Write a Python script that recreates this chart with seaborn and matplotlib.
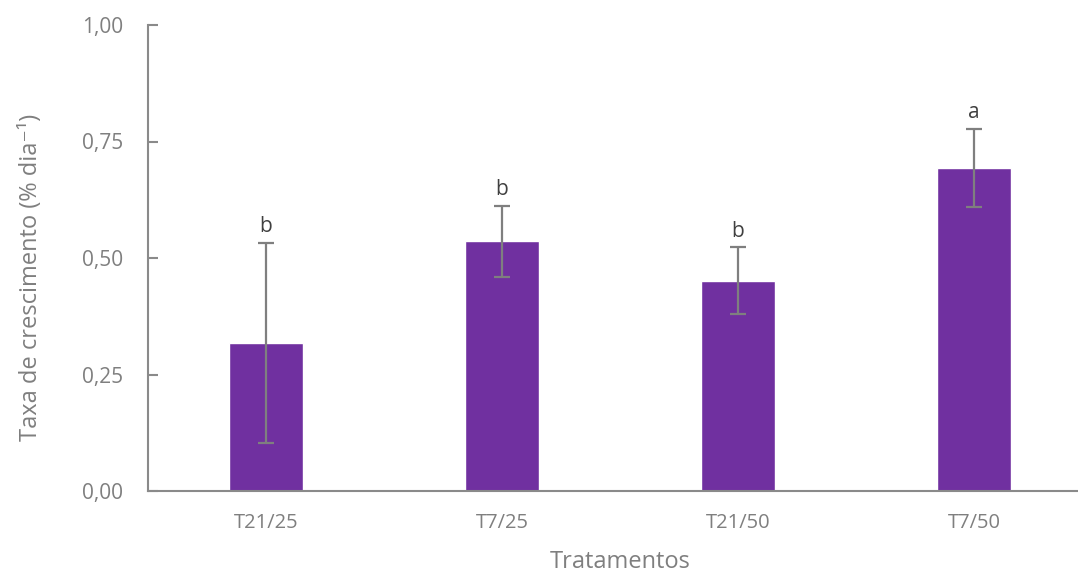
import matplotlib
matplotlib.use("Agg")
import matplotlib.pyplot as plt
import seaborn as sns
import pandas as pd

# Growth rate per treatment, standard deviation and significance letters
tratamentos = ["T21/25", "T7/25", "T21/50", "T7/50"]
taxa = [0.318, 0.536, 0.451, 0.693]
desvio = [0.215, 0.076, 0.072, 0.084]
letras = ["b", "b", "b", "a"]
yticks = [0.00, 0.25, 0.50, 0.75, 1.00]
ytick_labels = ["0,00", "0,25", "0,50", "0,75", "1,00"]

sns.set_theme(style="white")
plt.rcParams["font.family"] = ["Open Sans", "DejaVu Sans"]

W, H = 1078, 574
fig = plt.figure(figsize=(W / 100, H / 100), dpi=100)
ax = fig.add_axes([148 / W, (H - 491) / H, 944 / W, 466 / H])

df = pd.DataFrame({"Tratamento": tratamentos, "Taxa": taxa})
sns.barplot(data=df, x="Tratamento", y="Taxa", color="#7030A0", width=0.31,
            saturation=1, errorbar=None, ax=ax)
ax.errorbar(range(len(taxa)), taxa, yerr=desvio, fmt="none",
            ecolor="#7f7f7f", elinewidth=1.6, capsize=6, capthick=1.6)

for i, (v, e, l) in enumerate(zip(taxa, desvio, letras)):
    ax.annotate(l, (i, v + e), xytext=(0, 4), textcoords="offset points",
                ha="center", va="bottom", fontsize=15, color="#404040")

ax.set_xlim(-0.5, 3.5)
ax.set_ylim(0, 1.0)
ax.set_yticks(yticks)
ax.set_yticklabels(ytick_labels)

gray = "#8a8a8a"
for side in ["top", "right"]:
    ax.spines[side].set_visible(False)
for side in ["left", "bottom"]:
    ax.spines[side].set_color(gray)
    ax.spines[side].set_linewidth(1.5)

ax.tick_params(axis="y", which="major", left=True, direction="in", length=7,
               width=1.5, color=gray, labelsize=15, labelcolor="#7f7f7f", pad=18)
ax.tick_params(axis="x", bottom=False, labelsize=14.5, labelcolor="#7f7f7f", pad=10)

ax.set_xlabel("Tratamentos", fontsize=17, color="#7f7f7f", labelpad=12)
ax.set_ylabel("Taxa de crescimento (% dia⁻¹)", fontsize=17, color="#7f7f7f")
ax.yaxis.set_label_coords(-0.111, 0.459)

fig.savefig("out.png", dpi=100)
